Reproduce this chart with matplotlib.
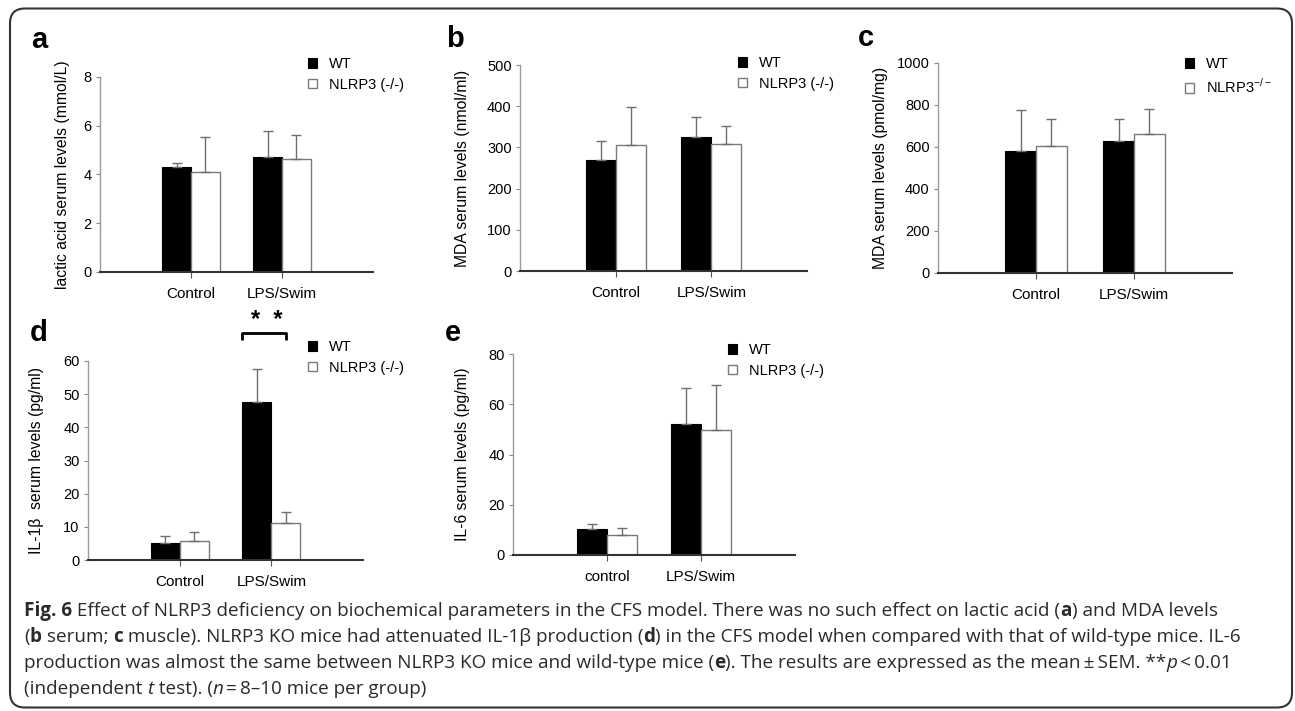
import matplotlib
matplotlib.use("Agg")
import matplotlib.pyplot as plt
from matplotlib.patches import FancyBboxPatch
import numpy as np

plt.rcParams["font.family"] = ["Liberation Sans", "DejaVu Sans"]
plt.rcParams["mathtext.fontset"] = "custom"
plt.rcParams["mathtext.rm"] = "Liberation Sans"

W, H = 1295, 711

# ---- data ----
groups = ["Control", "LPS/Swim"]
groups_e = ["control", "LPS/Swim"]

lactic_wt = [4.32, 4.73]
lactic_wt_err = [0.16, 1.06]
lactic_ko = [4.11, 4.63]
lactic_ko_err = [1.41, 1.01]

mda_serum_wt = [269, 326]
mda_serum_wt_err = [46, 49]
mda_serum_ko = [305, 309]
mda_serum_ko_err = [93, 44]

mda_muscle_wt = [582, 627]
mda_muscle_wt_err = [194, 105]
mda_muscle_ko = [606, 660]
mda_muscle_ko_err = [126, 119]

il1b_wt = [5.0, 47.7]
il1b_wt_err = [2.3, 9.8]
il1b_ko = [5.8, 11.2]
il1b_ko_err = [2.6, 3.4]

il6_wt = [10.3, 52.0]
il6_wt_err = [2.0, 14.3]
il6_ko = [7.9, 49.7]
il6_ko_err = [2.8, 18.0]

BAR_W = 0.315
EDGE_GREY = "#7a7a7a"


def px_axes(fig, l, r, t, b):
    return fig.add_axes([l / W, 1 - b / H, (r - l) / W, (b - t) / H])


def bar_panel(fig, box, cats, wt, wt_err, ko, ko_err, ymax, ystep, ylabel,
              ylab_x, letter, letter_xy, leg_xy, ko_label="NLRP3 (-/-)"):
    ax = px_axes(fig, *box)
    x = np.arange(1, len(cats) + 1)
    b1 = ax.bar(x - BAR_W / 2, wt, BAR_W, color="black", edgecolor="black",
                linewidth=0.8, label="WT")
    b2 = ax.bar(x + BAR_W / 2, ko, BAR_W, color="white", edgecolor=EDGE_GREY,
                linewidth=1.0, label=ko_label)
    for xs, v, e in [(x - BAR_W / 2, wt, wt_err), (x + BAR_W / 2, ko, ko_err)]:
        ax.errorbar(xs, v, yerr=[np.zeros(len(e)), e], fmt="none",
                    ecolor="#6e6e6e", elinewidth=1.0, capsize=3.5, capthick=1.0)
    ax.set_xlim(0, 3)
    ax.set_ylim(0, ymax)
    ax.set_yticks(np.arange(0, ymax + ystep / 2, ystep))
    ax.set_xticks(x)
    ax.set_xticklabels(cats, fontsize=11)
    ax.tick_params(axis="y", direction="out", length=3, width=0.8,
                   color="#888888", labelsize=10.5, pad=3)
    ax.tick_params(axis="x", direction="out", length=4, width=0.8,
                   color="#555555", pad=6.5)
    for s in ["top", "right"]:
        ax.spines[s].set_visible(False)
    ax.spines["left"].set_color("#999999")
    ax.spines["left"].set_linewidth(1.0)
    ax.spines["bottom"].set_color("#333333")
    ax.spines["bottom"].set_linewidth(1.5)
    ax.set_ylabel(ylabel, fontsize=11.3)
    l, r, t, b = box
    ax.yaxis.set_label_coords((ylab_x - l) / (r - l), 0.5)
    fig.text(letter_xy[0] / W, 1 - letter_xy[1] / H, letter, fontsize=21,
             weight="bold", va="baseline", ha="left")
    fig.legend(handles=[b1, b2], loc="upper left",
               bbox_to_anchor=(leg_xy[0] / W, 1 - leg_xy[1] / H),
               frameon=False, fontsize=10.5, handlelength=0.65,
               handleheight=0.65, handletextpad=0.8, borderpad=0,
               borderaxespad=0, labelspacing=0.45)
    return ax


fig = plt.figure(figsize=(W / 100, H / 100), dpi=100)

bar_panel(fig, (100, 373, 77, 272), groups, lactic_wt, lactic_wt_err,
          lactic_ko, lactic_ko_err, 8, 2, "lactic acid serum levels (mmol/L)",
          70, "a", (31, 48), (308, 57))
bar_panel(fig, (520, 807, 65, 271), groups, mda_serum_wt, mda_serum_wt_err,
          mda_serum_ko, mda_serum_ko_err, 500, 100, "MDA serum levels (nmol/ml)",
          470, "b", (446, 47), (738, 56))
bar_panel(fig, (938, 1232, 63, 273), groups, mda_muscle_wt, mda_muscle_wt_err,
          mda_muscle_ko, mda_muscle_ko_err, 1000, 200,
          "MDA serum levels (pmol/mg)", 888, "c", (858, 46), (1185, 57),
          ko_label="NLRP3$^{-/-}$")
ax_d = bar_panel(fig, (88, 363, 361, 560), groups, il1b_wt, il1b_wt_err,
                 il1b_ko, il1b_ko_err, 60, 10, "IL-1β  serum levels (pg/ml)",
                 44, "d", (30, 341), (308, 340))
bar_panel(fig, (513, 795, 354, 555), groups_e, il6_wt, il6_wt_err,
          il6_ko, il6_ko_err, 80, 20, "IL-6 serum levels (pg/ml)",
          470, "e", (445, 341), (728, 343))

# significance bracket over LPS/Swim in panel d
bx0 = 2 - BAR_W
bx1 = 2 + BAR_W / 2
by = 68.3
ax_d.plot([bx0, bx0, bx1, bx1], [by - 2.0, by, by, by - 2.0], color="black",
          linewidth=2.0, clip_on=False, solid_capstyle="butt")
ax_d.text((bx0 + bx1) / 2 + 0.03, by + 0.3, "*  *", ha="center", va="bottom",
          fontsize=17, weight="bold", clip_on=False)

# ---- caption ----
CAP_FONT = ["Open Sans", "DejaVu Sans"]
CAP_SIZE = 13.6
N, B, I = ("normal", "normal"), ("bold", "normal"), ("normal", "italic")
TS = "\u2009"  # thin space

caption = [
    [("Fig. 6", B), (" Effect of NLRP3 deficiency on biochemical parameters in the CFS model. "
                     "There was no such effect on lactic acid (", N), ("a", B), (") and MDA levels", N)],
    [("(", N), ("b", B), (" serum; ", N), ("c", B),
     (" muscle). NLRP3 KO mice had attenuated IL-1β production (", N), ("d", B),
     (") in the CFS model when compared with that of wild-type mice. IL-6", N)],
    [("production was almost the same between NLRP3 KO mice and wild-type mice (", N),
     ("e", B), ("). The results are expressed as the mean" + TS + "±" + TS + "SEM. **", N),
     ("p", I), (TS + "<" + TS + "0.01", N)],
    [("(independent ", N), ("t", I), (" test). (", N), ("n", I),
     (TS + "=" + TS + "8–10 mice per group)", N)],
]

renderer = fig.canvas.get_renderer()


def text_width(s, weight, style):
    kw = dict(fontsize=CAP_SIZE, family=CAP_FONT, weight=weight, style=style)
    p1 = fig.text(0, 0, s + "|", **kw)
    p2 = fig.text(0, 0, "|", **kw)
    w = p1.get_window_extent(renderer).width - p2.get_window_extent(renderer).width
    p1.remove()
    p2.remove()
    return w


for i, runs in enumerate(caption):
    x = 24
    y = 616 + 26 * i
    for s, (weight, style) in runs:
        fig.text(x / W, 1 - y / H, s, fontsize=CAP_SIZE, family=CAP_FONT,
                 weight=weight, style=style, va="baseline", ha="left",
                 color="#2a2a2a")
        x += text_width(s, weight, style)

# rounded frame around the whole figure
frame = FancyBboxPatch((0.10, 0.035), 12.82, 6.99,
                       boxstyle="round,pad=0,rounding_size=0.15",
                       transform=fig.dpi_scale_trans, fill=False,
                       edgecolor="#333333", linewidth=1.5)
fig.patches.append(frame)

fig.savefig("out.png", dpi=100)
